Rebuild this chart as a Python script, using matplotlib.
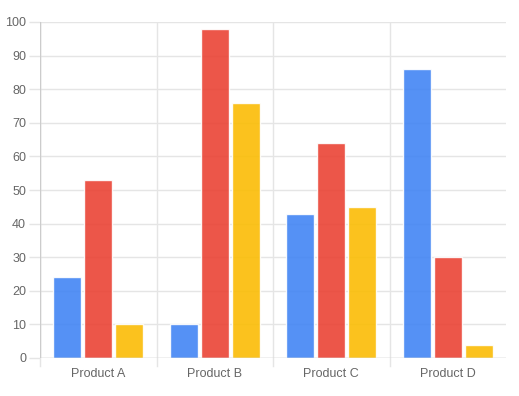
import numpy as np
import matplotlib.pyplot as plt

# ── DATA ────────────────────────────────────────────────────────────────────
categories = ["Product A", "Product B", "Product C", "Product D"]
series_1 = [24, 10, 43, 86]
series_2 = [53, 98, 64, 30]
series_3 = [10, 76, 45, 4]
y_ticks = list(range(0, 101, 10))
# ────────────────────────────────────────────────────────────────────────────

plt.rcParams["font.family"] = ["Liberation Sans", "DejaVu Sans"]

colors = ["#4285F4", "#EA4335", "#FBBC05"]
grid_col = "#e5e5e5"
text_col = "#666666"

fig = plt.figure(figsize=(5.19, 3.96), dpi=100)
ax = fig.add_axes([40 / 519, 1 - 358 / 396, 466 / 519, 336 / 396])

n = len(categories)
x = np.arange(n)
group = 0.8
slot = group / 3
width = slot * 0.9

for i, (vals, c) in enumerate(zip([series_1, series_2, series_3], colors)):
    offs = -group / 2 + slot * (i + 0.5)
    ax.bar(x + offs, vals, width, color=c, alpha=0.9,
           edgecolor=(1, 1, 1, 0.35), linewidth=1, zorder=3)

ax.set_xlim(-0.5, n - 0.5)
ax.set_ylim(0, 100)
ax.set_yticks(y_ticks)
ax.set_xticks(x)
ax.set_xticklabels(categories)

# horizontal grid lines
for yv in y_ticks:
    ax.axhline(yv, color=grid_col, lw=1, zorder=1)
# vertical grid lines at category boundaries (no line on the right edge)
for b in np.arange(-0.5, n - 0.5, 1.0):
    ax.axvline(b, color=grid_col, lw=1, zorder=1)
    ax.plot([b, b], [0, -0.025], transform=ax.get_xaxis_transform(),
            color=grid_col, lw=1, clip_on=False)

for s in ax.spines.values():
    s.set_visible(False)
ax.axhline(0, color="#cccccc", lw=1, zorder=4)
ax.axvline(-0.5, color="#cccccc", lw=1, zorder=4)

ax.tick_params(axis="y", length=8, width=1, color=grid_col, colors=text_col,
               labelsize=9, pad=2)
ax.tick_params(axis="x", length=0, colors=text_col, labelsize=9, pad=7)

fig.savefig("out.png", dpi=100, facecolor="white")
